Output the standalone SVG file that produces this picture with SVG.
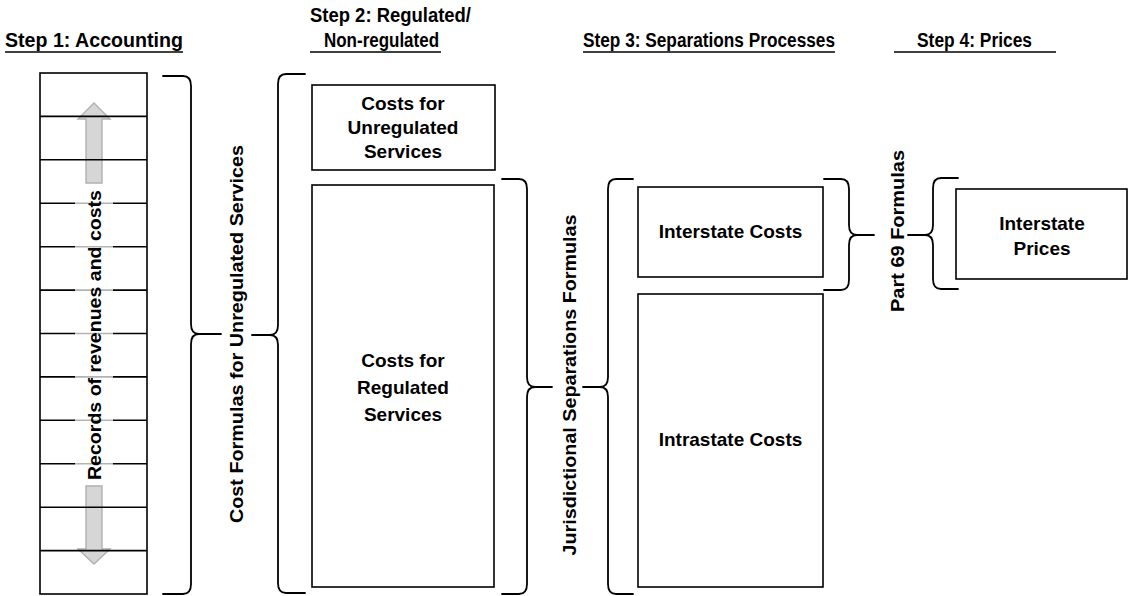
<svg xmlns="http://www.w3.org/2000/svg" width="1128" height="596" viewBox="0 0 1128 596">
  <style>
    .box { fill: #ffffff; stroke: #000000; stroke-width: 1.6; }
    .rule { stroke: #000000; stroke-width: 1.6; }
    .brace { fill: none; stroke: #000000; stroke-width: 1.8; stroke-linejoin: round; stroke-linecap: round; }
    .lbl { font-family: "Liberation Sans", Arial, sans-serif; font-weight: bold; font-size: 19px; fill: #000000; }
    .head { font-size: 20px; }
    .mid { text-anchor: middle; }
    .ul { stroke: #000000; stroke-width: 1.6; }
    .arrow { fill: #d0d0d0; stroke: #a3a3a3; stroke-width: 1.4; opacity: 0.85; }
  </style>
  <rect width="1128" height="596" fill="#ffffff"/>

  <!-- column headings -->
  <g id="headings">
    <text class="lbl head" x="5" y="47" textLength="178" lengthAdjust="spacingAndGlyphs">Step 1: Accounting</text>
    <line class="ul" x1="5" y1="52" x2="183" y2="52"/>
    <text class="lbl head" x="310" y="22" textLength="161" lengthAdjust="spacingAndGlyphs">Step 2: Regulated/</text>
    <text class="lbl head" x="324" y="47" textLength="115" lengthAdjust="spacingAndGlyphs">Non-regulated</text>
    <line class="ul" x1="310" y1="52" x2="441" y2="52"/>
    <text class="lbl head" x="583" y="47" textLength="252" lengthAdjust="spacingAndGlyphs">Step 3: Separations Processes</text>
    <line class="ul" x1="583" y1="52" x2="835" y2="52"/>
    <text class="lbl head" x="917" y="47" textLength="115" lengthAdjust="spacingAndGlyphs">Step 4: Prices</text>
    <line class="ul" x1="894" y1="52" x2="1056" y2="52"/>
  </g>

  <!-- accounting ledger -->
  <g id="ledger">
    <rect class="box" x="40" y="73" width="107" height="521"/>
    <polygon class="arrow" points="86,183 86,119 78,119 94,103 110,119 102,119 102,183"/>
    <polygon class="arrow" points="86,486 102,486 102,549 110,549 94,564 78,549 86,549"/>
    <g class="rule">
      <line x1="40" y1="116.4" x2="147" y2="116.4"/>
      <line x1="40" y1="159.8" x2="147" y2="159.8"/>
      <line x1="40" y1="203.3" x2="147" y2="203.3"/>
      <line x1="40" y1="246.7" x2="147" y2="246.7"/>
      <line x1="40" y1="290.1" x2="147" y2="290.1"/>
      <line x1="40" y1="333.5" x2="147" y2="333.5"/>
      <line x1="40" y1="376.9" x2="147" y2="376.9"/>
      <line x1="40" y1="420.3" x2="147" y2="420.3"/>
      <line x1="40" y1="463.8" x2="147" y2="463.8"/>
      <line x1="40" y1="507.2" x2="147" y2="507.2"/>
      <line x1="40" y1="550.6" x2="147" y2="550.6"/>
    </g>
    <rect x="75" y="188" width="38" height="294" fill="#ffffff" opacity="0.7"/>
    <text class="lbl mid" transform="translate(101,335) rotate(-90)" x="0" y="0" textLength="290" lengthAdjust="spacingAndGlyphs">Records of revenues and costs</text>
  </g>

  <!-- step 2 boxes -->
  <g id="unregulated">
    <rect class="box" x="312" y="85" width="183" height="85"/>
    <text class="lbl mid" x="403" y="110">Costs for</text>
    <text class="lbl mid" x="403" y="134">Unregulated</text>
    <text class="lbl mid" x="403" y="158">Services</text>
  </g>
  <g id="regulated">
    <rect class="box" x="312" y="185" width="182" height="402"/>
    <text class="lbl mid" x="403" y="367">Costs for</text>
    <text class="lbl mid" x="403" y="394">Regulated</text>
    <text class="lbl mid" x="403" y="421">Services</text>
  </g>

  <!-- step 3 boxes -->
  <g id="interstate-costs">
    <rect class="box" x="638" y="187" width="185" height="90"/>
    <text class="lbl mid" x="730.5" y="238">Interstate Costs</text>
  </g>
  <g id="intrastate-costs">
    <rect class="box" x="638" y="294" width="185" height="293"/>
    <text class="lbl mid" x="730.5" y="446">Intrastate Costs</text>
  </g>

  <!-- step 4 box -->
  <g id="interstate-prices">
    <rect class="box" x="956" y="189" width="171" height="90"/>
    <text class="lbl mid" x="1042" y="230">Interstate</text>
    <text class="lbl mid" x="1042" y="255">Prices</text>
  </g>

  <!-- braces and the formula labels between them -->
  <g id="connectors">
    <path class="brace" d="M163,76 L183,76 Q191,76 191,86 L191,324 Q191,334 199,334 L221,334 M199,334 Q191,334 191,344 L191,584 Q191,594 183,594 L163,594"/>
    <path class="brace" d="M305,74 L286,74 Q278,74 278,84 L278,325 Q278,335 270,335 L252,335 M270,335 Q278,335 278,345 L278,583 Q278,593 286,593 L305,593"/>
    <path class="brace" d="M502,179 L519,179 Q527,179 527,189 L527,377 Q527,387 535,387 L552,387 M535,387 Q527,387 527,397 L527,584 Q527,594 519,594 L502,594"/>
    <path class="brace" d="M633,179 L616,179 Q608,179 608,189 L608,377 Q608,387 600,387 L583,387 M600,387 Q608,387 608,397 L608,584 Q608,594 616,594 L633,594"/>
    <path class="brace" d="M824,179 L841,179 Q849,179 849,189 L849,225 Q849,235 857,235 L874,235 M857,235 Q849,235 849,245 L849,280 Q849,290 841,290 L824,290"/>
    <path class="brace" d="M958,178 L941,178 Q933,178 933,188 L933,225 Q933,235 925,235 L908,235 M925,235 Q933,235 933,245 L933,279 Q933,289 941,289 L958,289"/>
    <text class="lbl mid" transform="translate(243,334) rotate(-90)" x="0" y="0" textLength="378" lengthAdjust="spacingAndGlyphs">Cost Formulas for Unregulated Services</text>
    <text class="lbl mid" transform="translate(576,385) rotate(-90)" x="0" y="0" textLength="341" lengthAdjust="spacingAndGlyphs">Jurisdictional Separations Formulas</text>
    <text class="lbl mid" transform="translate(904,231) rotate(-90)" x="0" y="0" textLength="162" lengthAdjust="spacingAndGlyphs">Part 69 Formulas</text>
  </g>
</svg>
